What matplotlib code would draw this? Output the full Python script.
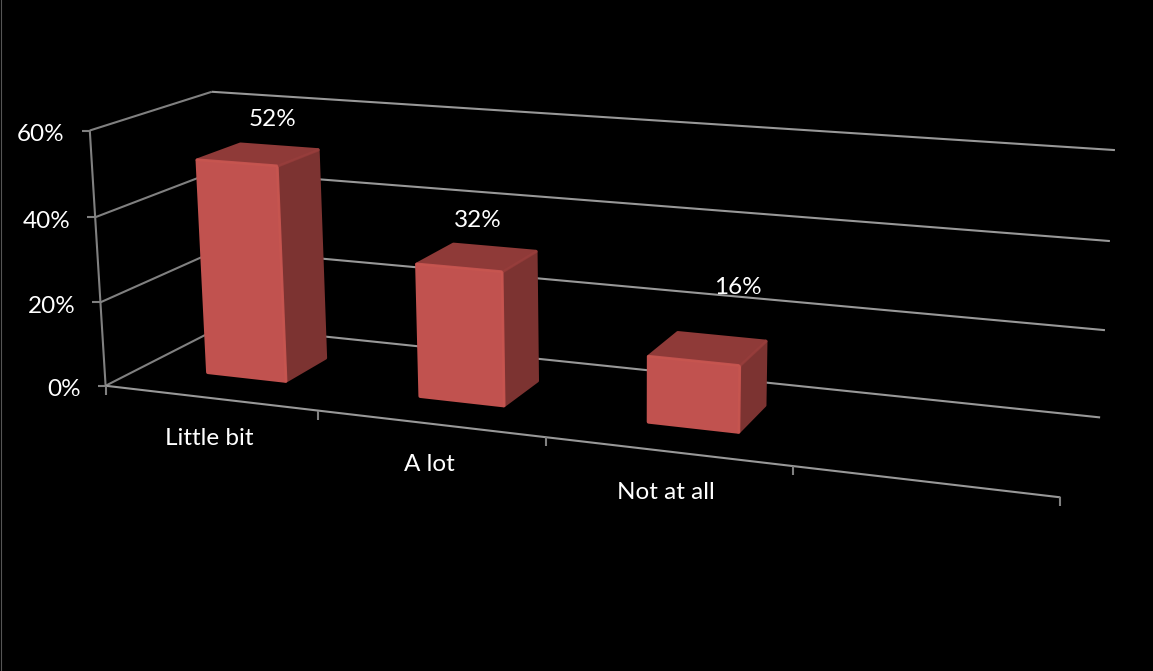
import matplotlib
matplotlib.use('Agg')
import matplotlib.pyplot as plt
from matplotlib.patches import Polygon
import numpy as np

categories = ['Little bit', 'A lot', 'Not at all']
values = [52, 32, 16]
value_labels = ['52%', '32%', '16%']
y_ticks = [0, 20, 40, 60]
y_tick_labels = ['0%', '20%', '40%', '60%']
n_slots = 4  # excel left an empty fourth category slot

anchors = [
    ((0, 0, 0), (105.7, 385)), ((1, 0, 0), (318, 410.5)), ((2, 0, 0), (547, 438)),
    ((3, 0, 0), (793, 467)), ((4, 0, 0), (1060, 497)), ((0, 60, 0), (90, 130.7)),
    ((0, 20, 0), (100, 302)), ((0, 40, 0), (95, 217)), ((0, 60, 1), (211.7, 92.3)),
    ((0, 0, 1), (223, 326)), ((4, 60, 1), (1115, 150)), ((4, 40, 1), (1110, 241)),
    ((4, 20, 1), (1105, 329)), ((4, 0, 1), (1100, 418)),
]


def fit_projection(pts):
    A, b = [], []
    for (u, v, w), (px, py) in pts:
        A.append([u, v, w, 1, 0, 0, 0, 0, -px * u, -px * v, -px * w])
        A.append([0, 0, 0, 0, u, v, w, 1, -py * u, -py * v, -py * w])
        b += [px, py]
    sol = np.linalg.lstsq(np.array(A, float), np.array(b, float), rcond=None)[0]
    return np.append(sol, 1).reshape(3, 4)


M = fit_projection(anchors)


def proj(u, v, w):
    x, y, h = M @ np.array([u, v, w, 1.0])
    return x / h, y / h


fig = plt.figure(figsize=(11.53, 6.71), dpi=100, facecolor='black')
ax = fig.add_axes([0, 0, 1, 1])
ax.set_xlim(0, 1153)
ax.set_ylim(671, 0)
ax.axis('off')

wall_col = '#808080'
back_col = '#989898'
lw = 1.5


def seg(a, b, col=wall_col):
    ax.plot(*zip(a, b), color=col, lw=lw, solid_capstyle='butt', zorder=1)


for v in y_ticks:
    seg(proj(0, v, 0), proj(0, v, 1))
    seg(proj(0, v, 1), proj(n_slots, v, 1), back_col)
    x, y = proj(0, v, 0)
    seg((x - 8, y), (x, y))
seg(proj(0, 0, 0), proj(0, 60, 0))
seg(proj(0, 0, 0), proj(n_slots, 0, 0), back_col)
for i in range(n_slots + 1):
    x, y = proj(i, 0, 0)
    seg((x, y), (x, y + 9))

left_gap, right_gap = 0.32, 0.695
d0, d1 = 0.3, 0.67
top_inset = 0.7  # bevel rounds the top a little below the value
base_inset = 0.4
front_col = '#c1524f'
side_col = '#7c3331'
top_col = '#8f3a38'
bevel_col = '#c6554f'
top_bevel_col = '#963d3b'


def face(pts, col):
    ax.add_patch(Polygon(pts, closed=True, facecolor=col, edgecolor=col, lw=2.5,
                         joinstyle='round', zorder=3))


for i, val in enumerate(values):
    u0, u1 = i + left_gap, i + right_gap
    top = val - top_inset
    ftl, ftr = proj(u0, top, d0), proj(u1, top, d0)
    fbl, fbr = proj(u0, base_inset, d0), proj(u1, base_inset, d0)
    btl, btr = proj(u0, top, d1), proj(u1, top, d1)
    bbr = proj(u1, base_inset, d1)
    face([ftr, btr, bbr, fbr], side_col)
    face([ftl, btl, btr, ftr], top_col)
    face([ftl, ftr, fbr, fbl], front_col)
    ax.plot(*zip(ftr, btr), color=top_bevel_col, lw=1.5, zorder=3.5, solid_capstyle='round')
    ax.plot(*zip(ftl, ftr), color=bevel_col, lw=1.5, zorder=4, solid_capstyle='round')
    ax.plot(*zip(ftr, fbr), color=bevel_col, lw=1.5, zorder=4, solid_capstyle='round')

font = 'Lato'
fs = 17.5
for v, lab in zip(y_ticks, y_tick_labels):
    x, y = proj(0, v, 0)
    ax.text(x - 25, y + 4, lab, color='white', ha='right', va='center', family=font, fontsize=fs)

for i, lab in enumerate(categories):
    x, y = proj(i + 0.5, 0, 0)
    ax.text(x - 1, y + 41, lab, color='white', ha='center', va='center', family=font, fontsize=fs)

label_offsets = [(14, -32), (1, -33), (31, -57)]
for i, lab in enumerate(value_labels):
    x, y = proj(i + 0.5, values[i], 0.5)
    dx, dy = label_offsets[i]
    ax.text(x + dx, y + dy, lab, color='white', ha='center', va='center', family=font, fontsize=fs)

# thin frame along left edge of the slide
ax.plot([0.5, 0.5], [0, 671], color='#555555', lw=0.8, zorder=5)

fig.savefig('out.png', dpi=100, facecolor='black')
